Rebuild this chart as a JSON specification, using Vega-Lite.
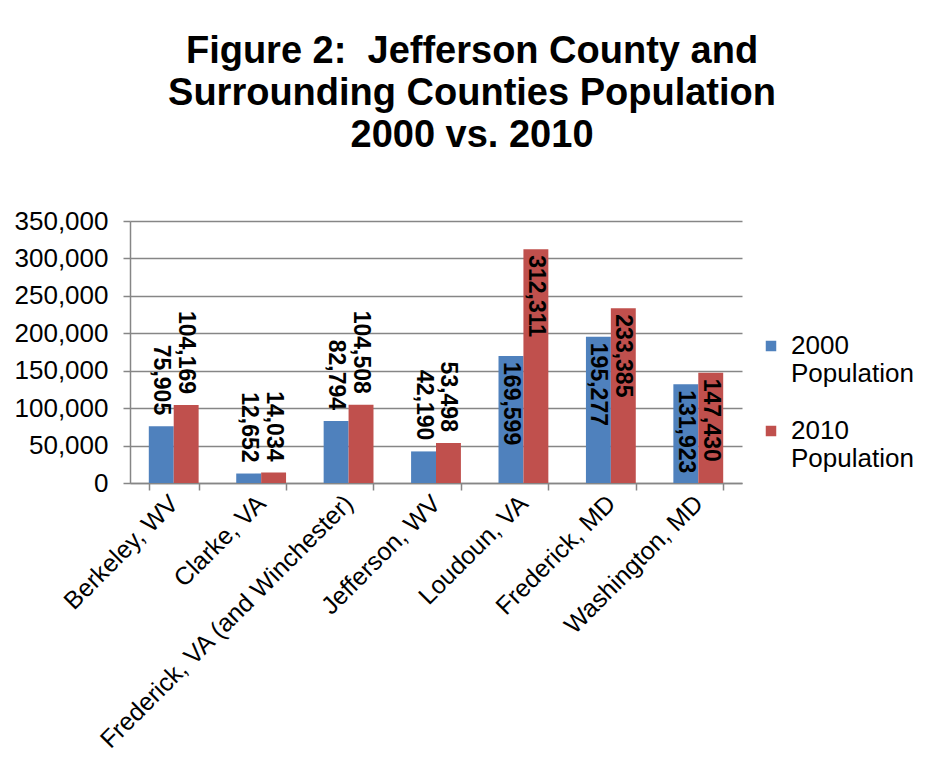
{
  "$schema": "https://vega.github.io/schema/vega-lite/v6.json",
  "width": 612,
  "height": 262,
  "autosize": {"type": "none"},
  "padding": {"left": 130, "top": 221, "right": 190, "bottom": 285},
  "background": "white",
  "config": {
    "font": "Liberation Sans, Arial, sans-serif",
    "view": {"stroke": null}
  },
  "title": {
    "text": ["Figure 2: \u00a0Jefferson County and", "Surrounding Counties Population", "2000 vs. 2010"],
    "fontSize": 38,
    "fontWeight": "bold",
    "color": "black",
    "lineHeight": 42,
    "anchor": "middle",
    "frame": "group",
    "baseline": "bottom",
    "dx": 36,
    "offset": 15
  },
  "data": {
    "values": [
      {"county": "Berkeley, WV", "series": "2000 Population", "value": 75905},
      {"county": "Berkeley, WV", "series": "2010 Population", "value": 104169},
      {"county": "Clarke, VA", "series": "2000 Population", "value": 12652},
      {"county": "Clarke, VA", "series": "2010 Population", "value": 14034},
      {"county": "Frederick, VA (and Winchester)", "series": "2000 Population", "value": 82794},
      {"county": "Frederick, VA (and Winchester)", "series": "2010 Population", "value": 104508},
      {"county": "Jefferson, WV", "series": "2000 Population", "value": 42190},
      {"county": "Jefferson, WV", "series": "2010 Population", "value": 53498},
      {"county": "Loudoun, VA", "series": "2000 Population", "value": 169599},
      {"county": "Loudoun, VA", "series": "2010 Population", "value": 312311},
      {"county": "Frederick, MD", "series": "2000 Population", "value": 195277},
      {"county": "Frederick, MD", "series": "2010 Population", "value": 233385},
      {"county": "Washington, MD", "series": "2000 Population", "value": 131923},
      {"county": "Washington, MD", "series": "2010 Population", "value": 147430}
    ]
  },
  "encoding": {
    "x": {
      "field": "county",
      "type": "nominal",
      "sort": null,
      "scale": {"paddingInner": 0.43, "paddingOuter": 0.215},
      "axis": {
        "title": null,
        "labelAngle": -45,
        "labelAlign": "right",
        "labelBaseline": "middle",
        "labelFontSize": 25,
        "labelColor": "black",
        "labelPadding": 9,
        "labelLimit": 500,
        "tickBand": "extent",
        "tickColor": "#868686",
        "tickSize": 7,
        "tickWidth": 1.5,
        "domainColor": "#868686",
        "domainWidth": 1.5,
        "grid": false
      }
    },
    "xOffset": {"field": "series", "type": "nominal", "scale": {"paddingInner": 0, "paddingOuter": 0}},
    "y": {
      "field": "value",
      "type": "quantitative",
      "scale": {"domain": [0, 350000], "nice": false},
      "axis": {
        "title": null,
        "values": [0, 50000, 100000, 150000, 200000, 250000, 300000, 350000],
        "format": ",d",
        "labelFontSize": 26,
        "labelColor": "black",
        "labelPadding": 15,
        "tickColor": "#868686",
        "tickSize": 7,
        "tickWidth": 1.5,
        "domainColor": "#868686",
        "domainWidth": 1.5,
        "gridColor": "#868686",
        "gridWidth": 1.5
      }
    }
  },
  "layer": [
    {
      "mark": {"type": "bar"},
      "encoding": {
        "color": {
          "field": "series",
          "type": "nominal",
          "scale": {"domain": ["2000 Population", "2010 Population"], "range": ["#4F81BD", "#C0504D"]},
          "legend": {
            "title": null,
            "orient": "none",
            "legendX": 628,
            "legendY": 112,
            "symbolType": "square",
            "symbolSize": 110,
            "symbolStrokeWidth": 0,
            "labelFontSize": 26,
            "labelColor": "black",
            "labelBaseline": "middle",
            "labelOffset": 7,
            "labelLimit": 300,
            "labelExpr": "split(datum.label, ' ')",
            "rowPadding": 31
          }
        }
      }
    },
    {
      "transform": [{"filter": "datum.value >= 120000"}],
      "mark": {"type": "text", "angle": 90, "align": "left", "baseline": "middle", "dx": 6, "fontSize": 23, "fontWeight": "bold", "color": "black"},
      "encoding": {"text": {"field": "value", "type": "quantitative", "format": ","}}
    },
    {
      "transform": [{"filter": "datum.value < 120000"}],
      "mark": {"type": "text", "angle": 90, "align": "right", "baseline": "middle", "dx": -11, "fontSize": 23, "fontWeight": "bold", "color": "black"},
      "encoding": {"text": {"field": "value", "type": "quantitative", "format": ","}}
    }
  ]
}
